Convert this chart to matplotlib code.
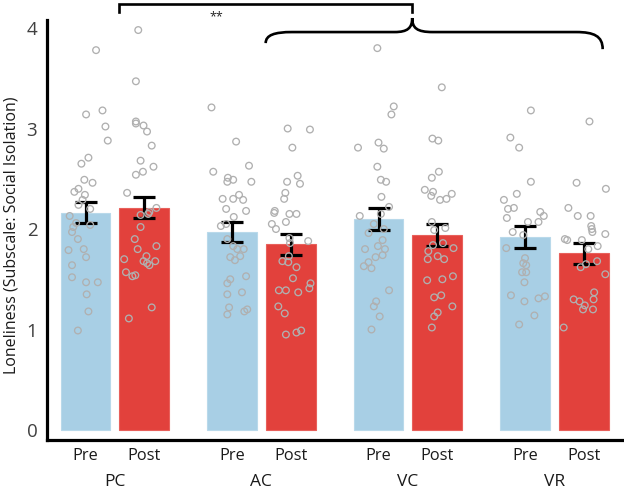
import matplotlib
matplotlib.use("Agg")
import matplotlib.pyplot as plt
from matplotlib.path import Path
from matplotlib.patches import PathPatch
import matplotlib.transforms as mtrans

plt.rcParams['font.family'] = ['Open Sans', 'DejaVu Sans']

groups = ["PC", "AC", "VC", "VR"]
phases = ["Pre", "Post"]
means_pre = [2.16, 1.97, 2.10, 1.92]
means_post = [2.21, 1.85, 1.94, 1.76]
se_pre = [0.105, 0.10, 0.105, 0.11]
se_post = [0.105, 0.105, 0.11, 0.105]

pc_pre = [3.78,3.14,3.18,3.02,2.88,2.71,2.65,2.49,2.46,2.40,2.37,2.34,2.29,2.24,2.20,2.13,2.06,2.04,2.02,1.97,1.90,1.79,1.80,1.72,1.64,1.52,1.47,1.47,1.35,1.18,0.99]
pc_pre_j = [0.18,0.01,0.29,0.34,0.38,0.05,-0.07,-0.02,0.12,-0.12,-0.19,-0.01,-0.05,-0.12,0.08,-0.27,-0.16,0.08,-0.21,-0.23,-0.13,-0.29,-0.03,0.01,-0.23,-0.23,0.01,0.21,0.02,0.05,-0.13]
pc_post = [3.98,3.47,3.07,3.05,3.03,2.97,2.83,2.68,2.62,2.57,2.54,2.36,2.21,2.17,2.15,2.14,2.02,1.90,1.80,1.83,1.70,1.73,1.68,1.64,1.68,1.66,1.57,1.53,1.54,1.22,1.11]
pc_post_j = [-0.10,-0.14,-0.14,-0.14,-0.01,0.05,0.13,-0.06,0.16,-0.02,-0.14,-0.29,0.21,0.09,0.07,-0.06,-0.06,-0.16,-0.11,0.21,-0.34,0.04,-0.01,0.09,0.19,0.05,-0.31,-0.20,-0.15,0.13,-0.26]
ac_pre = [3.21,2.87,2.63,2.57,2.51,2.47,2.49,2.47,2.34,2.30,2.30,2.29,2.20,2.18,2.12,2.03,2.05,1.90,1.83,1.80,1.80,1.72,1.69,1.73,1.53,1.50,1.46,1.35,1.37,1.22,1.20,1.18,1.15]
ac_pre_j = [-0.35,0.07,0.29,-0.32,-0.07,-0.08,0.02,0.33,0.12,0.02,-0.16,0.19,-0.10,0.24,0.03,-0.19,-0.10,-0.08,0.02,0.09,0.20,-0.03,0.05,0.14,0.24,-0.03,-0.08,-0.08,0.17,-0.05,0.26,0.21,-0.08]
ac_post = [3.00,2.99,2.81,2.53,2.47,2.45,2.36,2.30,2.18,2.16,2.15,2.15,2.07,2.05,2.00,1.91,1.88,1.86,1.73,1.68,1.67,1.62,1.51,1.46,1.41,1.39,1.39,1.37,1.23,1.16,0.97,0.99,0.95]
ac_post_j = [-0.05,0.33,0.03,0.12,-0.06,0.16,-0.09,-0.11,-0.27,-0.28,-0.02,0.10,-0.08,-0.32,-0.25,-0.02,0.30,-0.01,-0.03,-0.14,-0.04,0.10,0.04,0.34,0.32,-0.20,-0.08,0.13,-0.21,-0.10,0.10,0.18,-0.08]
vc_pre = [3.80,3.22,3.14,2.81,2.86,2.80,2.62,2.49,2.47,2.32,2.22,2.15,2.13,2.00,1.96,1.89,1.80,1.83,1.80,1.74,1.72,1.67,1.63,1.61,1.39,1.28,1.23,1.13,1.00,2.05]
vc_pre_j = [-0.02,0.26,0.22,-0.35,0.00,0.09,-0.02,0.04,0.13,0.05,0.18,0.04,-0.32,0.09,-0.17,0.07,-0.23,-0.01,0.11,0.07,-0.05,-0.17,-0.25,-0.12,0.18,-0.04,-0.08,0.02,-0.12,-0.08]
vc_post = [3.41,2.90,2.88,2.57,2.51,2.39,2.37,2.33,2.29,2.30,2.35,2.07,1.99,2.01,1.86,1.84,1.81,1.78,1.70,1.73,1.70,1.49,1.50,1.53,1.32,1.34,1.23,1.17,1.13,1.02]
vc_post_j = [0.08,-0.08,0.02,0.03,-0.09,-0.21,-0.07,-0.10,0.05,0.16,0.25,-0.09,-0.05,0.14,0.10,-0.07,0.28,-0.15,-0.16,0.01,0.12,-0.17,0.09,0.27,-0.05,0.07,0.26,0.01,-0.05,-0.09]
vr_pre = [3.18,2.91,2.81,2.47,2.35,2.29,2.20,2.21,2.17,2.13,2.11,2.07,2.07,1.97,1.94,1.81,1.71,1.66,1.64,1.57,1.57,1.47,1.34,1.31,1.33,1.28,1.14,1.05]
vr_pre_j = [0.10,-0.25,-0.10,0.10,-0.14,-0.36,-0.29,-0.19,0.26,0.32,-0.31,0.05,0.23,-0.21,-0.03,-0.32,0.00,-0.03,0.02,-0.05,0.02,-0.01,-0.24,0.23,0.34,-0.01,0.16,-0.10]
vr_post = [3.07,2.46,2.40,2.21,2.13,2.13,2.03,2.00,1.97,1.95,1.90,1.89,1.89,1.83,1.80,1.68,1.65,1.62,1.55,1.37,1.30,1.30,1.28,1.24,1.20,1.20,1.02]
vr_post_j = [0.10,-0.12,0.38,-0.26,-0.10,0.12,0.13,0.14,0.15,0.37,-0.32,-0.28,-0.03,0.24,0.08,0.23,0.04,-0.05,0.37,0.18,0.17,-0.17,-0.07,0.02,-0.01,0.16,-0.34]

yticks = [0, 1, 2, 3, 4]
ylabel = "Loneliness (Subscale: Social Isolation)"

pre_points = [(pc_pre, pc_pre_j), (ac_pre, ac_pre_j), (vc_pre, vc_pre_j), (vr_pre, vr_pre_j)]
post_points = [(pc_post, pc_post_j), (ac_post, ac_post_j), (vc_post, vc_post_j), (vr_post, vr_post_j)]

BLUE = '#a8cfe5'
RED = '#e2413c'
PT = '#b0b0b0'
spacing = 2.5
width = 0.85

fig = plt.figure(figsize=(6.24, 4.92), dpi=100)
ax = fig.add_axes([47/624, 1-440/492, 575/624, 420/492])

pre_x = [spacing*i for i in range(len(groups))]
post_x = [spacing*i + 1 for i in range(len(groups))]

ax.bar(pre_x, means_pre, width=width, color=BLUE, edgecolor='#b9d9ea', linewidth=0.8, zorder=1)
ax.bar(post_x, means_post, width=width, color=RED, edgecolor='#e8605b', linewidth=0.8, zorder=1)
ax.errorbar(pre_x, means_pre, yerr=se_pre, fmt='none', ecolor='black', elinewidth=2.3,
            capsize=7.6, capthick=2.3, zorder=3)
ax.errorbar(post_x, means_post, yerr=se_post, fmt='none', ecolor='black', elinewidth=2.3,
            capsize=7.6, capthick=2.3, zorder=3)

for xs, pts in ((pre_x, pre_points), (post_x, post_points)):
    for xc, (vals, jit) in zip(xs, pts):
        ax.scatter([xc + j for j in jit], vals, s=23, facecolors='none', edgecolors=PT,
                   linewidths=0.95, zorder=4)

ax.set_ylim(-0.0995, 4.08)
ax.set_xlim(-0.657, 9.155)
ax.set_yticks(yticks)
ax.set_yticklabels([str(t) for t in yticks])
ax.tick_params(axis='y', length=0, pad=7, labelsize=13.5, labelcolor='#404040')
ax.set_xticks(pre_x + post_x)
ax.set_xticklabels(["Pre"]*len(groups) + ["Post"]*len(groups))
ax.tick_params(axis='x', length=0, pad=6, labelsize=11.8, labelcolor='#1a1a1a')
for s in ['top', 'right']:
    ax.spines[s].set_visible(False)
for s in ['left', 'bottom']:
    ax.spines[s].set_linewidth(2.3)
    ax.spines[s].set_color('black')

trans = mtrans.blended_transform_factory(ax.transData, ax.transAxes)
for i, g in enumerate(groups):
    ax.text((pre_x[i] + post_x[i]) / 2, -0.1, g, transform=trans, ha='center', va='center',
            fontsize=12.5, color='#1a1a1a')

fig.text(12/624, 1-235/492, ylabel, rotation=90, ha='center', va='center', fontsize=11.5,
         color='#1a1a1a')

# significance bracket
xl = post_x[0] - width/2
xr = post_x[2] - width/2
ytop, ylow = 4.24, 4.16
ax.plot([xl, xl, xr, xr], [ylow, ytop, ytop, ylow], color='black', lw=1.9,
        clip_on=False, solid_joinstyle='miter', zorder=5)
ax.text(2.24, 4.11, "**", ha='center', va='center', fontsize=9, color='#222222')

# curly brace
b0 = post_x[1] - width/2
b1 = post_x[3] + width/2 - 0.1
tip = xr
yh, ytip = 3.96, 4.10
verts = [
    (b0, 3.85), (b0, 3.93), (b0 + 0.15, yh), (b0 + 0.45, yh),
    (tip - 0.3, yh),
    (tip - 0.08, yh), (tip, 4.0), (tip, ytip),
    (tip, 4.0), (tip + 0.08, yh), (tip + 0.35, yh),
    (b1 - 0.45, yh),
    (b1 - 0.15, yh), (b1, 3.92), (b1, 3.79),
]
codes = [Path.MOVETO, Path.CURVE4, Path.CURVE4, Path.CURVE4,
         Path.LINETO,
         Path.CURVE4, Path.CURVE4, Path.CURVE4,
         Path.CURVE4, Path.CURVE4, Path.CURVE4,
         Path.LINETO,
         Path.CURVE4, Path.CURVE4, Path.CURVE4]
ax.add_patch(PathPatch(Path(verts, codes), facecolor='none', edgecolor='black', lw=1.9,
                       clip_on=False, zorder=5))

fig.savefig("out.png", dpi=100)
